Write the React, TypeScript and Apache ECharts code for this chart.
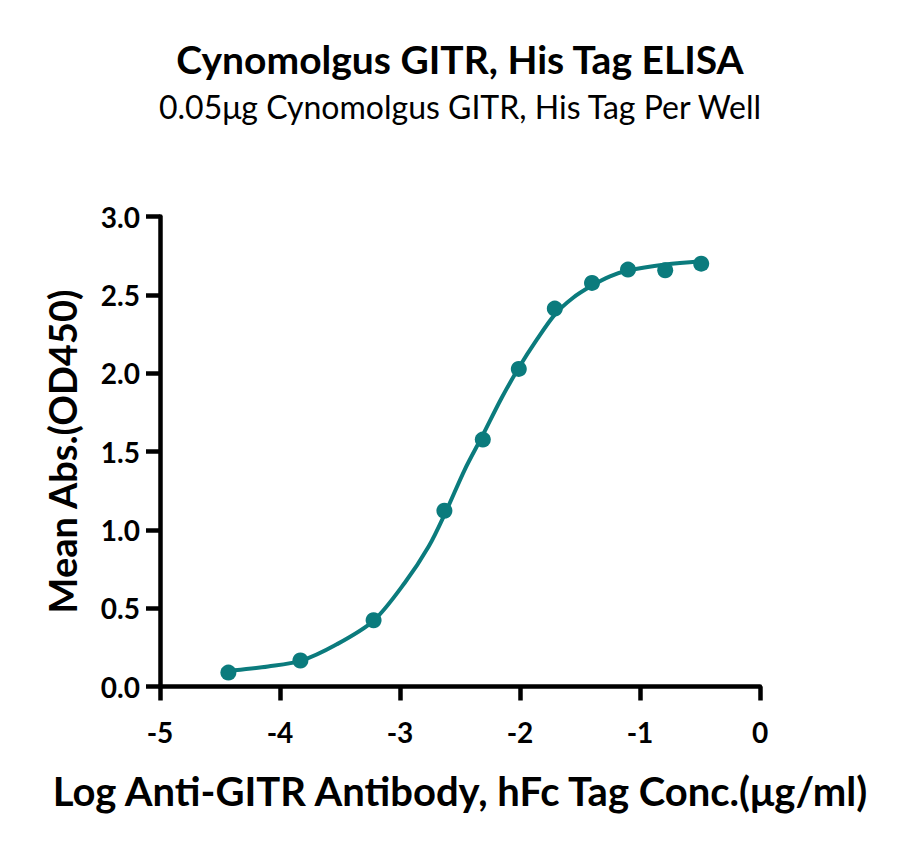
import {useEffect, useRef} from 'react';
import * as echarts from 'echarts';

// measured points (log conc, OD450)
const logConc = [-4.43, -3.83, -3.22, -2.63, -2.31, -2.01, -1.71, -1.40, -1.10, -0.79, -0.49];
const meanAbs = [0.089, 0.166, 0.423, 1.122, 1.576, 2.027, 2.412, 2.576, 2.661, 2.657, 2.699];

// fitted curve
const curveX = [-4.38, -4.1, -3.83, -3.53, -3.22, -2.96, -2.76, -2.62, -2.46, -2.31, -2.16, -2.01, -1.86, -1.71, -1.56, -1.40, -1.25, -1.10, -0.79, -0.49];
const curveY = [0.104, 0.128, 0.163, 0.268, 0.42, 0.662, 0.895, 1.112, 1.385, 1.605, 1.832, 2.035, 2.214, 2.374, 2.48, 2.559, 2.618, 2.655, 2.693, 2.714];

const TEAL = '#0b7b7d';
const FONT = 'Lato';

export default function App() {
    const chartRef = useRef<HTMLDivElement | null>(null);

    useEffect(() => {
        const el = chartRef.current;
        if (!el) return;
        const chart = echarts.init(el, null, {renderer: 'svg'});
        chart.setOption({
            animation: false,
            graphic: [
                {
                    type: 'text',
                    x: 452,
                    y: 51,
                    style: {
                        text: 'Cynomolgus GITR, His Tag ELISA',
                        align: 'center',
                        verticalAlign: 'middle',
                        fontFamily: FONT,
                        fontWeight: 'bold',
                        fontSize: 39,
                        fill: '#000',
                    },
                },
                {
                    type: 'text',
                    x: 452,
                    y: 98,
                    style: {
                        text: '0.05μg Cynomolgus GITR, His Tag Per Well',
                        align: 'center',
                        verticalAlign: 'middle',
                        fontFamily: FONT,
                        fontWeight: 'normal',
                        fontSize: 32,
                        fill: '#000',
                    },
                },
            ],
            grid: {left: 152, right: 132, top: 208.5, bottom: 147.5},
            xAxis: {
                type: 'value',
                min: -5,
                max: 0,
                interval: 1,
                name: 'Log Anti-GITR Antibody, hFc Tag Conc.(μg/ml)',
                nameLocation: 'middle',
                nameGap: 84,
                nameTextStyle: {fontFamily: FONT, fontWeight: 'bold', fontSize: 40, color: '#000'},
                axisLine: {onZero: false, lineStyle: {color: '#000', width: 4.5}},
                axisTick: {length: 14, lineStyle: {color: '#000', width: 4.5}},
                splitLine: {show: false},
                axisLabel: {
                    fontFamily: FONT,
                    fontWeight: 'bold',
                    fontSize: 28,
                    color: '#000',
                    margin: 31,
                },
            },
            yAxis: {
                type: 'value',
                min: 0,
                max: 3,
                interval: 0.5,
                name: 'Mean Abs.(OD450)',
                nameLocation: 'middle',
                nameGap: 79,
                nameTextStyle: {fontFamily: FONT, fontWeight: 'bold', fontSize: 38, color: '#000'},
                axisLine: {onZero: false, lineStyle: {color: '#000', width: 4.5}},
                axisTick: {length: 14, lineStyle: {color: '#000', width: 4.5}},
                splitLine: {show: false},
                axisLabel: {
                    fontFamily: FONT,
                    fontWeight: 'bold',
                    fontSize: 28,
                    color: '#000',
                    margin: 20,
                    formatter: (v: number) => v.toFixed(1),
                },
            },
            series: [
                {
                    type: 'line',
                    data: curveX.map((x, i) => [x, curveY[i]]),
                    smooth: 0.3,
                    showSymbol: false,
                    lineStyle: {color: TEAL, width: 4},
                    z: 2,
                },
                {
                    type: 'scatter',
                    data: logConc.map((x, i) => [x, meanAbs[i]]),
                    symbolSize: 16,
                    itemStyle: {color: TEAL, opacity: 1},
                    z: 3,
                },
            ],
        });
        return () => chart.dispose();
    }, []);

    return <div ref={chartRef} style={{width: 884, height: 826}}/>;
}
